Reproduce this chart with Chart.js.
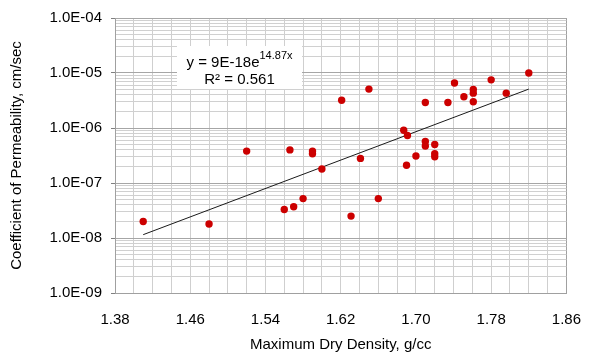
<!DOCTYPE html>
<html>
<head>
<meta charset="utf-8">
<script src="https://cdn.jsdelivr.net/npm/chart.js@4/dist/chart.umd.min.js"></script>
<style>
  body { margin: 0; background: #fff; }
  canvas { display: block; }
</style>
</head>
<body>
<canvas id="myChart" width="599" height="360"></canvas>
<script>
// measured points: max dry density (g/cc) vs permeability (cm/sec)
var density = [1.41, 1.48, 1.52, 1.566, 1.59, 1.59, 1.60, 1.56, 1.57, 1.58,
               1.631, 1.641, 1.66, 1.687, 1.691, 1.690, 1.70, 1.71, 1.71, 1.72,
               1.72, 1.72, 1.621, 1.65, 1.71, 1.734, 1.741, 1.751, 1.761, 1.761,
               1.761, 1.78, 1.796, 1.82]
var permeability = [2.0e-8, 1.8e-8, 3.8e-7, 4.0e-7, 3.8e-7, 3.4e-7, 1.8e-7, 3.3e-8, 3.7e-8, 5.2e-8,
                    2.5e-8, 2.8e-7, 5.2e-8, 9.1e-7, 7.3e-7, 2.1e-7, 3.1e-7, 5.7e-7, 4.7e-7, 5.0e-7,
                    3.4e-7, 3.0e-7, 3.2e-6, 5.1e-6, 2.9e-6, 2.9e-6, 6.6e-6, 3.7e-6, 5.0e-6, 4.3e-6,
                    3.0e-6, 7.5e-6, 4.3e-6, 1.0e-5]

// exponential trendline end points (straight on the log axis)
var trendX = [1.41, 1.82]
var trendY = [1.15e-8, 5.1e-6]

var xTickLabels = ['1.38', '1.46', '1.54', '1.62', '1.70', '1.78', '1.86']
var yMajor = [1e-9, 1e-8, 1e-7, 1e-6, 1e-5, 1e-4]
var yTickLabels = ['1.0E-09', '1.0E-08', '1.0E-07', '1.0E-06', '1.0E-05', '1.0E-04']

var eqLine1 = 'y = 9E-18e'
var eqSup = '14.87x'
var eqLine2 = 'R\u00b2 = 0.561'

var FONT = 'Liberation Sans, Arial, sans-serif'

var points = density.map(function (d, i) { return { x: d, y: permeability[i] } })
var trend = trendX.map(function (d, i) { return { x: d, y: trendY[i] } })

var equationBox = {
  id: 'equationBox',
  beforeDatasetsDraw: function (chart) {
    var ctx = chart.ctx
    var a = chart.chartArea
    var left = a.left + 62, top = a.top + 28, w = 125, h = 43
    ctx.save()
    ctx.fillStyle = '#fff'
    ctx.fillRect(left, top, w, h)
    ctx.fillStyle = '#000'
    ctx.textBaseline = 'alphabetic'
    ctx.font = '15px ' + FONT
    var w1 = ctx.measureText(eqLine1).width
    ctx.font = '11px ' + FONT
    var w2 = ctx.measureText(eqSup).width
    var cx = left + w / 2
    var x0 = cx - (w1 + w2) / 2
    ctx.font = '15px ' + FONT
    ctx.fillText(eqLine1, x0, top + 21)
    ctx.font = '11px ' + FONT
    ctx.fillText(eqSup, x0 + w1, top + 13)
    ctx.font = '15px ' + FONT
    ctx.textAlign = 'center'
    ctx.fillText(eqLine2, cx, top + 38)
    ctx.restore()
  }
}

var config = {
  data: {
    datasets: [{
      type: 'scatter',
      data: points,
      pointRadius: 3.7,
      pointBackgroundColor: '#cc0000',
      pointBorderColor: '#cc0000',
      pointBorderWidth: 0
    }, {
      type: 'line',
      data: trend,
      borderColor: '#1a1a1a',
      borderWidth: 1,
      pointRadius: 0,
      fill: false
    }]
  },
  options: {
    responsive: false,
    animation: false,
    layout: { padding: { top: 14, right: 18, bottom: 0, left: 0 } },
    plugins: { legend: { display: false }, tooltip: { enabled: false } },
    scales: {
      x: {
        type: 'linear',
        min: 1.38,
        max: 1.86,
        afterBuildTicks: function (scale) {
          var t = []
          xTickLabels.forEach(function (lab, i) {
            var v = parseFloat(lab)
            t.push({ value: v, major: true, label: lab })
            if (i < xTickLabels.length - 1) {
              var next = parseFloat(xTickLabels[i + 1])
              for (var k = 1; k < 4; k++) t.push({ value: v + k * (next - v) / 4, major: false })
            }
          })
          scale.ticks = t
        },
        afterFit: function (scale) { scale.height = 67 },
        grid: {
          color: function (c) {
            if (c.tick && (c.index === 0 || c.index === 24)) return '#a0a0a0'
            return '#cfcfcf'
          },
          drawTicks: false
        },
        border: { color: '#a0a0a0' },
        ticks: {
          autoSkip: false,
          maxRotation: 0,
          padding: 18,
          color: '#000',
          font: { family: FONT, size: 15 },
          callback: function (v, i, ticks) { return ticks[i].major ? ticks[i].label : '' }
        },
        title: {
          display: true,
          text: 'Maximum Dry Density, g/cc',
          color: '#000',
          font: { family: FONT, size: 15 },
          padding: { top: 0, bottom: 6 }
        }
      },
      y: {
        type: 'logarithmic',
        min: 1e-9,
        max: 1e-4,
        afterBuildTicks: function (scale) {
          var t = []
          yMajor.forEach(function (v, i) {
            t.push({ value: v, major: true, label: yTickLabels[i] })
            if (i < yMajor.length - 1) {
              for (var m = 2; m < 10; m++) t.push({ value: m * v, major: false })
            }
          })
          scale.ticks = t
        },
        afterFit: function (scale) { scale.width = 115 },
        grid: {
          color: function (c) {
            if (c.tick && c.tick.major) return '#a6a6a6'
            return '#d0d0d0'
          },
          tickColor: function (c) { return c.tick && c.tick.major ? '#808080' : 'rgba(0,0,0,0)' },
          tickLength: 4
        },
        border: { color: '#a0a0a0' },
        ticks: {
          autoSkip: false,
          padding: 9,
          color: '#000',
          font: { family: FONT, size: 15 },
          callback: function (v, i, ticks) { return ticks[i].major ? ticks[i].label : '' }
        },
        title: {
          display: true,
          text: 'Coefficient of Permeability, cm/sec',
          color: '#000',
          font: { family: FONT, size: 15 },
          padding: { top: 8, bottom: 0 }
        }
      }
    }
  },
  plugins: [equationBox]
}

var mychart = new Chart(document.getElementById('myChart'), config)
</script>
</body>
</html>
